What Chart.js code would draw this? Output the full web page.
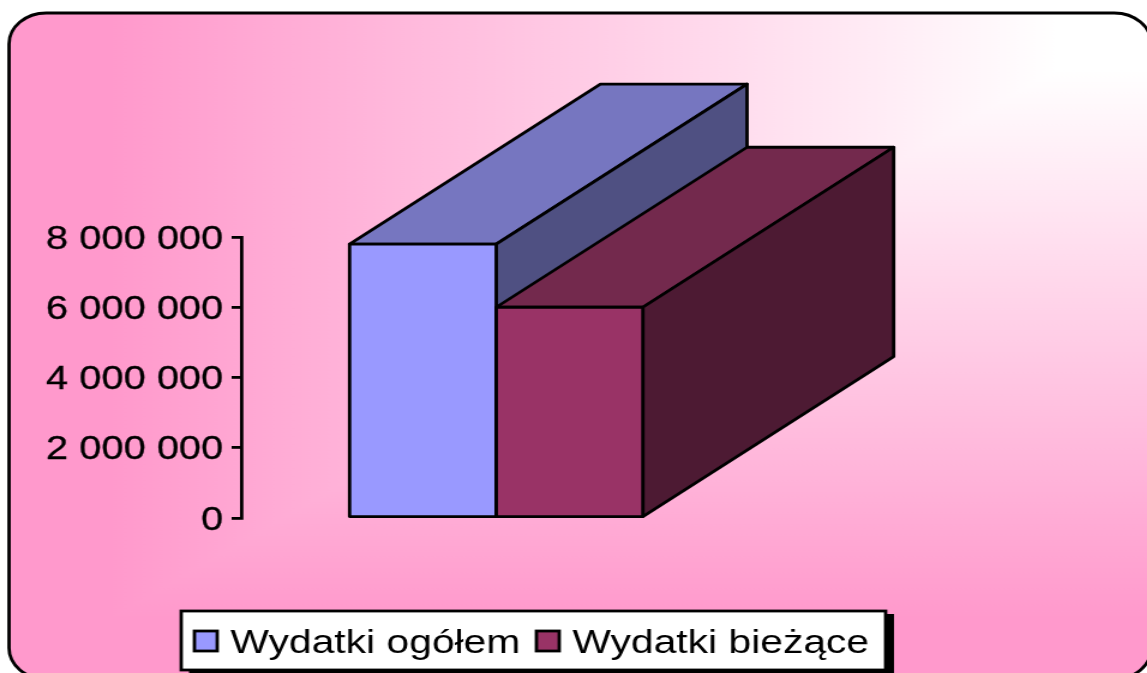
<!DOCTYPE html>
<html>
<head>
<meta charset="utf-8">
<script src="https://cdn.jsdelivr.net/npm/chart.js@4"></script>
<style>
  html, body { margin: 0; padding: 0; background: #fff; overflow: hidden; }
  /* the reference is stretched sideways, glyphs and lines too */
  #wrap { width: 956px; height: 673px; transform: scaleX(1.2); transform-origin: 0 0; }
</style>
</head>
<body>
<div id="wrap"><canvas id="myChart" width="956" height="673"></canvas></div>
<script>
const categories = ['2006'];
const seriesNames = ['Wydatki ogółem', 'Wydatki bieżące'];
const wydatkiOgolem = [7800000];
const wydatkiBiezace = [6000000];
const tickStep = 2000000;
const tickMax = 8000000;

const frontColors = ['#9999FF', '#993366'];
const topColors = ['#7676C0', '#73294D'];
const sideColors = ['#4F5082', '#4D1A33'];

const DEPTH_X = 209;
const DEPTH_Y = 160;
const LINE = 2.8;

function face(ctx, pts, fill) {
  ctx.beginPath();
  pts.forEach((p, i) => i ? ctx.lineTo(p[0], p[1]) : ctx.moveTo(p[0], p[1]));
  ctx.closePath();
  if (fill) {
    ctx.fillStyle = fill;
    ctx.fill();
  }
  ctx.stroke();
}

const backgroundPlugin = {
  id: 'tlo',
  beforeDraw(chart) {
    const ctx = chart.ctx;
    ctx.save();
    ctx.beginPath();
    ctx.roundRect(7.5, 13, 952, 666, 31);
    ctx.save();
    ctx.clip();
    const poziomy = ctx.createLinearGradient(90, 0, 880, 0);
    poziomy.addColorStop(0, '#FF99CC');
    poziomy.addColorStop(1, '#FFFFFF');
    ctx.fillStyle = poziomy;
    ctx.fillRect(0, 0, 956, 673);
    // from-corner fill: whichever gradient is pinker wins
    ctx.globalCompositeOperation = 'darken';
    const pionowy = ctx.createLinearGradient(0, 70, 0, 620);
    pionowy.addColorStop(0, '#FFFFFF');
    pionowy.addColorStop(1, '#FF99CC');
    ctx.fillStyle = pionowy;
    ctx.fillRect(0, 0, 956, 673);
    ctx.restore();
    ctx.lineWidth = LINE;
    ctx.strokeStyle = '#000';
    ctx.stroke();
    ctx.restore();
  }
};

// depth faces of the block, taken from the bar elements
const depthPlugin = {
  id: 'glebia',
  beforeDatasetsDraw(chart) {
    const ctx = chart.ctx;
    ctx.save();
    ctx.lineWidth = LINE;
    ctx.strokeStyle = '#000';
    ctx.lineJoin = 'round';
    chart.data.datasets.forEach((ds, i) => {
      const bar = chart.getDatasetMeta(i).data[0];
      const l = bar.x - bar.width / 2;
      const r = bar.x + bar.width / 2;
      const t = bar.y;
      const b = bar.base;
      face(ctx, [[l, t], [r, t], [r + DEPTH_X, t - DEPTH_Y], [l + DEPTH_X, t - DEPTH_Y]], topColors[i]);
      face(ctx, [[r, t], [r + DEPTH_X, t - DEPTH_Y], [r + DEPTH_X, b - DEPTH_Y], [r, b]], sideColors[i]);
    });
    ctx.restore();
  },
  // outlines centred on the bar edges, so the two fronts share one line
  afterDatasetsDraw(chart) {
    const ctx = chart.ctx;
    ctx.save();
    ctx.lineWidth = LINE;
    ctx.strokeStyle = '#000';
    ctx.lineJoin = 'round';
    chart.data.datasets.forEach((ds, i) => {
      const bar = chart.getDatasetMeta(i).data[0];
      const l = bar.x - bar.width / 2;
      const r = bar.x + bar.width / 2;
      face(ctx, [[l, bar.y], [r, bar.y], [r, bar.base], [l, bar.base]]);
    });
    ctx.restore();
  }
};

const legendPlugin = {
  id: 'legenda',
  afterDraw(chart) {
    const ctx = chart.ctx;
    ctx.save();
    ctx.fillStyle = '#000';
    ctx.fillRect(157.5, 614, 587.5, 59);
    ctx.fillStyle = '#fff';
    ctx.strokeStyle = '#000';
    ctx.lineWidth = LINE;
    ctx.fillRect(151, 611, 587, 59);
    ctx.strokeRect(151, 611, 587, 59);
    ctx.font = '34px "Liberation Sans"';
    ctx.textBaseline = 'middle';
    const pozycje = [[162, 192], [447, 477]];
    chart.data.datasets.forEach((ds, i) => {
      ctx.fillStyle = frontColors[i];
      ctx.fillRect(pozycje[i][0], 631, 19, 20);
      ctx.strokeRect(pozycje[i][0], 631, 19, 20);
      ctx.fillStyle = '#000';
      ctx.fillText(ds.label, pozycje[i][1], 644);
    });
    ctx.restore();
  }
};

const ctx1 = document.getElementById('myChart').getContext('2d');

new Chart(ctx1, {
  type: 'bar',
  data: {
    labels: categories,
    datasets: [
      { label: seriesNames[0], data: wydatkiOgolem, backgroundColor: frontColors[0], borderWidth: 0 },
      { label: seriesNames[1], data: wydatkiBiezace, backgroundColor: frontColors[1], borderWidth: 0 }
    ]
  },
  options: {
    responsive: false,
    animation: false,
    categoryPercentage: 0.575,
    barPercentage: 1,
    layout: {
      padding: { left: 0, right: 330, top: 237, bottom: 155 }
    },
    plugins: {
      legend: { display: false },
      tooltip: { enabled: false }
    },
    scales: {
      x: { display: false },
      y: {
        min: 0,
        max: tickMax,
        afterFit(scale) { scale.width = 201; },
        border: { display: true, color: '#000', width: LINE },
        grid: { drawOnChartArea: false, color: '#000', lineWidth: LINE, tickLength: 8 },
        ticks: {
          stepSize: tickStep,
          color: '#000',
          padding: 7,
          labelOffset: 2.5,
          textStrokeColor: '#000',
          textStrokeWidth: 0.3,
          font: { family: 'Liberation Sans', size: 33.2 },
          callback: v => String(v).replace(/\B(?=(\d{3})+$)/g, ' ')
        }
      }
    }
  },
  plugins: [backgroundPlugin, depthPlugin, legendPlugin]
});
</script>
</body>
</html>
